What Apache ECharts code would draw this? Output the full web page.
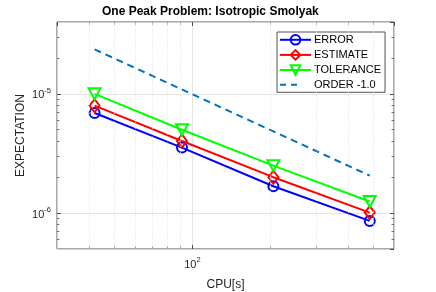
<!DOCTYPE html>
<html>
<head>
<meta charset="utf-8">
<script src="https://cdn.jsdelivr.net/npm/echarts@6/dist/echarts.min.js"></script>
<style>html,body{margin:0;padding:0;background:#fff}#c{width:436px;height:292px}</style>
</head>
<body>
<div id="c"></div>
<script>
// ---- data ----
const cpu = [41.9, 91.1, 205.3, 483.6];
const errorVals = [6.9e-6, 3.54e-6, 1.68e-6, 8.6e-7];
const estimateVals = [7.95e-6, 4.02e-6, 2.0e-6, 1.01e-6];
const toleranceVals = [1.0e-5, 5.0e-6, 2.5e-6, 1.25e-6];
const orderCpu = [41.9, 483.6];
const orderVals = [2.36e-5, 2.06e-6];
const seriesNames = ['ERROR', 'ESTIMATE', 'TOLERANCE', 'ORDER -1.0'];
const xRange = [30, 600];
const yRange = [5e-7, 4e-5];
const xMinorTicks = [40, 50, 60, 70, 80, 90, 200, 300, 400, 500];
const yMinorTicks = [6e-7, 7e-7, 8e-7, 9e-7, 2e-6, 3e-6, 4e-6, 5e-6, 6e-6, 7e-6, 8e-6, 9e-6, 2e-5, 3e-5];

const FONT = '"Liberation Sans", Arial, Helvetica, sans-serif';
const AX = '#262626';

function pairs(xs, ys) { return xs.map((x, i) => [x, ys[i]]); }
function powLabel(v) {
  const e = Math.round(Math.log10(v));
  return '{a|10}{b|' + e + '}';
}
const rich = {
  a: { fontSize: 11, fontFamily: FONT, color: AX, lineHeight: 14, verticalAlign: 'bottom' },
  b: { fontSize: 7.5, fontFamily: FONT, color: AX, lineHeight: 8, verticalAlign: 'top', padding: [0, 0, 4, 0] }
};

function mkX(extra) {
  return Object.assign({
    type: 'log', logBase: 10, min: xRange[0], max: xRange[1],
    axisLine: { show: false },
    axisTick: { show: false },
    axisLabel: { show: false },
    splitLine: { show: false },
    minorTick: { show: false }, minorSplitLine: { show: false }
  }, extra);
}
function mkY(extra) {
  return Object.assign({
    type: 'log', logBase: 10, min: yRange[0], max: yRange[1],
    axisLine: { show: false },
    axisTick: { show: false },
    axisLabel: { show: false },
    splitLine: { show: false },
    minorTick: { show: false }, minorSplitLine: { show: false }
  }, extra);
}

const majorTick = { show: true, inside: true, length: 4, lineStyle: { color: AX, width: 0.8 } };
const minorTickX = { show: true, inside: true, length: 2.5, customValues: xMinorTicks, lineStyle: { color: AX, width: 0.6 } };
const minorTickY = { show: true, inside: true, length: 2.5, customValues: yMinorTicks, lineStyle: { color: AX, width: 0.6 } };

const dashIcon = 'path://M0,0h6v2h-6zM11,0h6v2h-6zM31,0L31,2L31,0z';

const option = {
  animation: false,
  backgroundColor: '#fff',
  title: {
    text: 'One Peak Problem: Isotropic Smolyak',
    left: 102, top: 6, padding: 0,
    textStyle: { fontFamily: FONT, fontSize: 12, fontWeight: 'bold', color: '#000' }
  },
  grid: {
    left: 57, right: 42, top: 22, bottom: 43, containLabel: false, outerBoundsMode: 'none',
    show: true, borderColor: AX, borderWidth: 0.8, backgroundColor: 'transparent'
  },
  legend: {
    orient: 'vertical', left: 277, top: 32,
    data: seriesNames.slice(0, 3).concat([{ name: seriesNames[3], icon: dashIcon }]),
    itemWidth: 31, itemHeight: 12, itemGap: 3.5,
    symbolKeepAspect: true,
    padding: [2, 4, 2, 2],
    backgroundColor: '#fff', borderColor: AX, borderWidth: 0.8,
    selectedMode: false,
    textStyle: { fontFamily: FONT, fontSize: 11, color: '#000', padding: [0, 0, 0, -2] }
  },
  xAxis: [
    mkX({
      position: 'bottom',
      name: 'CPU[s]', nameLocation: 'middle', nameGap: 30, nameMoveOverlap: false,
      nameTextStyle: { fontFamily: FONT, fontSize: 12, color: AX },
      axisTick: majorTick,
      axisLabel: { show: true, showMinLabel: false, showMaxLabel: false, margin: 7, formatter: powLabel, rich: rich },
      splitLine: { show: true, lineStyle: { color: '#dedede', width: 0.8 } }
    }),
    mkX({ position: 'top', axisTick: majorTick }),
    mkX({ position: 'bottom', axisTick: minorTickX }),
    mkX({ position: 'top', axisTick: minorTickX })
  ],
  yAxis: [
    mkY({
      position: 'left',
      name: 'EXPECTATION', nameLocation: 'middle', nameGap: 30, nameMoveOverlap: false,
      nameTextStyle: { fontFamily: FONT, fontSize: 12, color: AX },
      axisTick: majorTick,
      axisLabel: { show: true, showMinLabel: false, showMaxLabel: false, margin: 6, formatter: powLabel, rich: rich },
      splitLine: { show: true, lineStyle: { color: '#dedede', width: 0.8 } }
    }),
    mkY({ position: 'right', axisTick: majorTick }),
    mkY({ position: 'left', axisTick: minorTickY }),
    mkY({ position: 'right', axisTick: minorTickY })
  ],
  series: [
    {
      name: '__grid', type: 'line', data: [], silent: true,
      markLine: {
        silent: true, symbol: 'none', label: { show: false },
        lineStyle: { color: '#e4e4e4', width: 0.7, type: [1.5, 1.5] },
        data: xMinorTicks.map(v => ({ xAxis: v })).concat(yMinorTicks.map(v => ({ yAxis: v })))
      }
    },
    {
      name: seriesNames[0], type: 'line', data: pairs(cpu, errorVals),
      symbol: 'circle', symbolSize: 10,
      lineStyle: { color: '#0000ff', width: 2 },
      itemStyle: { color: 'rgba(0,0,0,0)', borderColor: '#0000ff', borderWidth: 2 },
      z: 3
    },
    {
      name: seriesNames[1], type: 'line', data: pairs(cpu, estimateVals),
      symbol: 'diamond', symbolSize: [10, 13],
      lineStyle: { color: '#ff0000', width: 2 },
      itemStyle: { color: 'rgba(0,0,0,0)', borderColor: '#ff0000', borderWidth: 2 },
      z: 4
    },
    {
      name: seriesNames[2], type: 'line', data: pairs(cpu, toleranceVals),
      symbol: 'triangle', symbolSize: [12, 11], symbolRotate: 180,
      lineStyle: { color: '#00ff00', width: 2 },
      itemStyle: { color: 'rgba(0,0,0,0)', borderColor: '#00ff00', borderWidth: 2 },
      z: 5
    },
    {
      name: seriesNames[3], type: 'line', data: pairs(orderCpu, orderVals),
      symbol: 'none',
      lineStyle: { color: '#0072BD', width: 2, type: [7, 5] },
      itemStyle: { color: '#0072BD' },
      z: 2
    }
  ]
};
const chart = echarts.init(document.getElementById('c'), null, { renderer: 'canvas' });
chart.setOption(option);
</script>
</body>
</html>
